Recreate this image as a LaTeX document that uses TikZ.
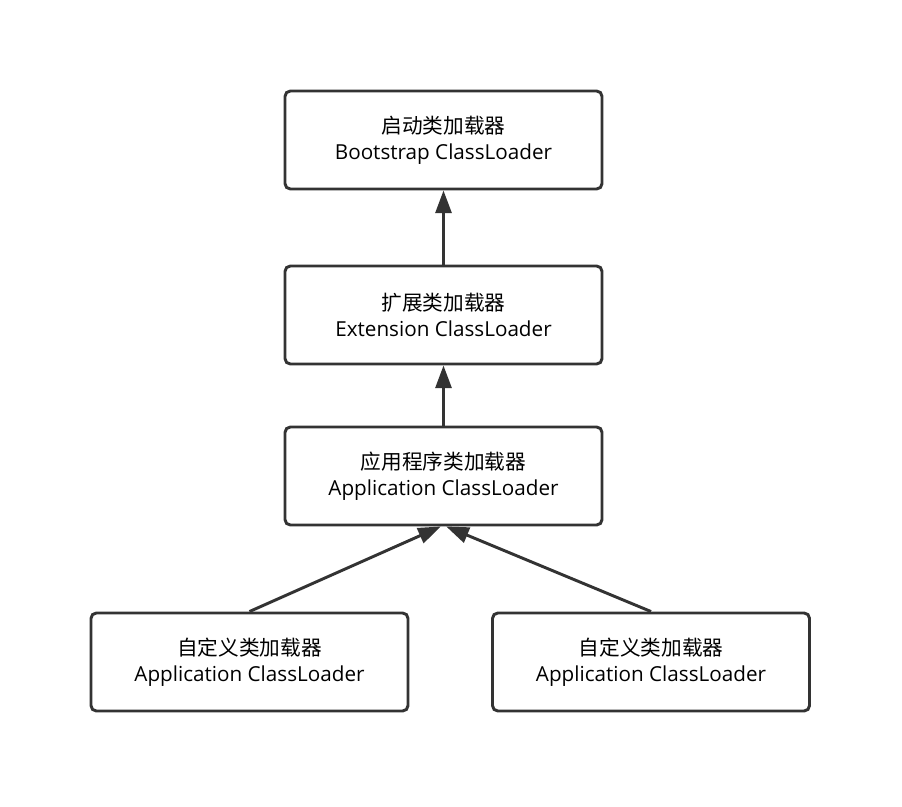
\documentclass[tikz,border=0pt]{standalone}
\usepackage{fontspec}
\setmainfont{Open Sans}
\newfontfamily\cjk{Noto Sans CJK SC}
\usetikzlibrary{positioning,arrows.meta}

\begin{document}
\begin{tikzpicture}[
        x=0.75pt, y=-0.75pt,
        loader/.style={draw=black!80, line width=2.2pt, rounded corners=4pt,
            minimum width=317*0.75pt, minimum height=98*0.75pt,
            align=center, font=\fontsize{15.5pt}{19.5pt}\selectfont, inner sep=0pt},
        parent/.style={draw=black!80, line width=2.2pt,
            -{Triangle[length=17pt,width=12pt]}}
    ]
        \useasboundingbox (0,0) rectangle (902,806);
        \node[loader] (boot) at (443.5,140) {{\cjk 启动类加载器}\\Bootstrap ClassLoader};
        \node[loader] (ext) at (443.5,315) {{\cjk 扩展类加载器}\\Extension ClassLoader};
        \node[loader] (app) at (443.5,476) {{\cjk 应用程序类加载器}\\Application ClassLoader};
        \node[loader] (userA) at (249.5,662) {{\cjk 自定义类加载器}\\Application ClassLoader};
        \node[loader] (userB) at (651,662) {{\cjk 自定义类加载器}\\Application ClassLoader};

        \draw[parent] (ext) -- (boot);
        \draw[parent] (app) -- (ext);
        \draw[parent] (userA.north) -- ([xshift=-2pt]app.south);
        \draw[parent] (userB.north) -- ([xshift=2pt]app.south);
    \end{tikzpicture}
\end{document}
